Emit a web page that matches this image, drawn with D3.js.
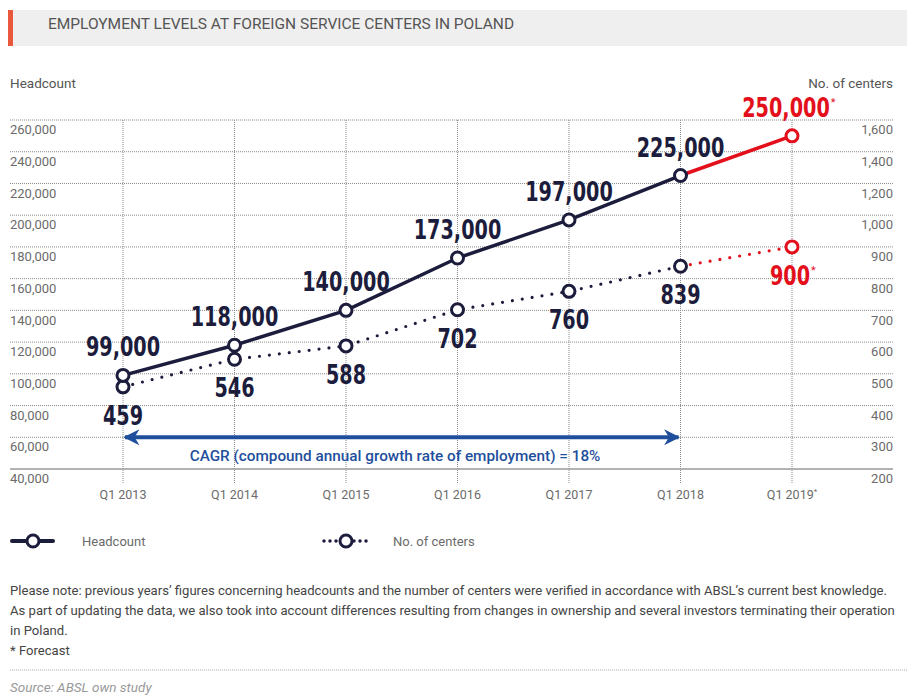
<!DOCTYPE html>
<html>
<head>
<meta charset="utf-8">
<script src="https://cdn.jsdelivr.net/npm/d3@7"></script>
<style>
  body { margin: 0; background: #fff; }
  text { font-family: Roboto, "Noto Sans", sans-serif; }
  .num { font-family: "DejaVu Sans", sans-serif; font-weight: 700; }
</style>
</head>
<body>
<script>
// data
const quarters = ['Q1 2013', 'Q1 2014', 'Q1 2015', 'Q1 2016', 'Q1 2017', 'Q1 2018', 'Q1 2019'];
const headcount = [99000, 118000, 140000, 173000, 197000, 225000, 250000];
const centers = [459, 546, 588, 702, 760, 839, 900];
const forecastIndex = 6; // Q1 2019 is a forecast
const leftTicks = [40000, 60000, 80000, 100000, 120000, 140000, 160000, 180000, 200000, 220000, 240000, 260000];
const rightTicks = [200, 300, 400, 500, 600, 700, 800, 900, 1000, 1200, 1400, 1600];

const W = 907, H = 695;
const navy = '#1c1c3c', red = '#e3101c', blue = '#1f4f9c', grey = '#6b6b6b';

const svg = d3.select('body').append('svg')
    .attr('width', W)
    .attr('height', H);

// title bar
svg.append('rect').attr('x', 8).attr('y', 10).attr('width', W - 8).attr('height', 36).attr('fill', '#efefef');
svg.append('rect').attr('x', 8).attr('y', 10).attr('width', 5).attr('height', 36).attr('fill', '#e9573d');
svg.append('text').attr('x', 48).attr('y', 29)
    .style('font-size', '15.5px').style('fill', '#555')
    .text('EMPLOYMENT LEVELS AT FOREIGN SERVICE CENTERS IN POLAND');

// scales
const x = d3.scalePoint().domain(quarters).range([123, 792]);
const y = d3.scaleLinear().domain([40000, 260000]).range([469, 120]);
// right axis is not linear in the original: 100 per gridline up to 1,000, then 200
const y2 = d3.scaleLinear().domain([200, 1000, 1600]).range([y(40000), y(200000), y(260000)]);

const gridLeft = 10, gridRight = 893;

// horizontal gridlines
svg.append('g').selectAll('line')
    .data(leftTicks.slice(1))
    .join('line')
    .attr('x1', gridLeft).attr('x2', gridRight)
    .attr('y1', d => y(d)).attr('y2', d => y(d))
    .attr('stroke', '#8a8a8a').attr('stroke-width', 1).attr('stroke-dasharray', '1,1');

// vertical gridlines
svg.append('g').selectAll('line')
    .data(quarters)
    .join('line')
    .attr('x1', d => x(d)).attr('x2', d => x(d))
    .attr('y1', y(260000)).attr('y2', 484)
    .attr('stroke', '#8a8a8a').attr('stroke-width', 1).attr('stroke-dasharray', '1,1');

// baseline
svg.append('line').attr('x1', gridLeft).attr('x2', gridRight)
    .attr('y1', y(40000)).attr('y2', y(40000))
    .attr('stroke', '#999').attr('stroke-width', 1.5);

// left axis labels (sit just under each gridline)
const leftAxis = d3.axisLeft(y).tickValues(leftTicks).tickSize(0).tickFormat(d3.format(','));
svg.append('g').attr('transform', `translate(${gridLeft},0)`)
    .call(leftAxis)
    .call(g => g.select('.domain').remove())
    .call(g => g.selectAll('text')
        .attr('x', 0).attr('dy', '1.05em')
        .attr('text-anchor', 'start')
        .style('font-family', 'Roboto, sans-serif')
        .style('font-size', '13px').style('fill', grey));

const rightAxis = d3.axisRight(y2).tickValues(rightTicks).tickSize(0).tickFormat(d3.format(','));
svg.append('g').attr('transform', `translate(${gridRight},0)`)
    .call(rightAxis)
    .call(g => g.select('.domain').remove())
    .call(g => g.selectAll('text')
        .attr('x', 0).attr('dy', '1.05em')
        .attr('text-anchor', 'end')
        .style('font-family', 'Roboto, sans-serif')
        .style('font-size', '13px').style('fill', grey));

// axis titles
svg.append('text').attr('x', 10).attr('y', 88).style('font-size', '13.5px').style('fill', '#555').text('Headcount');
svg.append('text').attr('x', gridRight).attr('y', 88).attr('text-anchor', 'end')
    .style('font-size', '13.5px').style('fill', '#555').text('No. of centers');

// x labels
const xl = svg.append('g').selectAll('text')
    .data(quarters)
    .join('text')
    .attr('x', d => x(d)).attr('y', 499)
    .attr('text-anchor', 'middle')
    .style('font-size', '12.5px').style('fill', grey)
    .text(d => d);
xl.filter((d, i) => i === forecastIndex).append('tspan')
    .attr('dy', -5).style('font-size', '8px').text('*');

// CAGR arrow
const arrowY = y(60000);
const defs = svg.append('defs');
defs.append('marker').attr('id', 'arr').attr('viewBox', '0 0 10 10')
    .attr('refX', 9).attr('refY', 5).attr('markerWidth', 4).attr('markerHeight', 4)
    .attr('orient', 'auto-start-reverse').attr('markerUnits', 'strokeWidth')
    .append('path').attr('d', 'M0,0 L10,5 L0,10 L3,5 Z').attr('fill', blue);
svg.append('line')
    .attr('x1', x('Q1 2013') + 2).attr('x2', x('Q1 2018') - 2)
    .attr('y1', arrowY).attr('y2', arrowY)
    .attr('stroke', blue).attr('stroke-width', 4)
    .attr('marker-start', 'url(#arr)').attr('marker-end', 'url(#arr)');
svg.append('text')
    .attr('x', 395).attr('y', 461)
    .attr('text-anchor', 'middle')
    .style('font-size', '15.3px').style('font-weight', '500').style('fill', blue)
    .text('CAGR (compound annual growth rate of employment) = 18%');

// lines
const rows = quarters.map((q, i) => ({ q, h: headcount[i], c: centers[i], i }));
const actual = rows.slice(0, forecastIndex);
const fc = rows.slice(forecastIndex - 1);

const lineH = d3.line().x(d => x(d.q)).y(d => y(d.h));
const lineC = d3.line().x(d => x(d.q)).y(d => y2(d.c));

svg.append('path').datum(actual).attr('d', lineH)
    .attr('fill', 'none').attr('stroke', navy).attr('stroke-width', 3.5);
svg.append('path').datum(fc).attr('d', lineH)
    .attr('fill', 'none').attr('stroke', red).attr('stroke-width', 3.5);
svg.append('path').datum(actual).attr('d', lineC)
    .attr('fill', 'none').attr('stroke', navy).attr('stroke-width', 3.2)
    .attr('stroke-linecap', 'round').attr('stroke-dasharray', '0,10');
svg.append('path').datum(fc).attr('d', lineC)
    .attr('fill', 'none').attr('stroke', red).attr('stroke-width', 3.2)
    .attr('stroke-linecap', 'round').attr('stroke-dasharray', '0,10');

// markers
const col = d => d.i === forecastIndex ? red : navy;
svg.append('g').selectAll('circle')
    .data(rows).join('circle')
    .attr('cx', d => x(d.q)).attr('cy', d => y2(d.c)).attr('r', 6)
    .attr('fill', '#fff').attr('stroke', col).attr('stroke-width', 3);
svg.append('g').selectAll('circle')
    .data(rows).join('circle')
    .attr('cx', d => x(d.q)).attr('cy', d => y(d.h)).attr('r', 6)
    .attr('fill', '#fff').attr('stroke', col).attr('stroke-width', 3);

// value labels, squeezed horizontally to look like the condensed face of the original
const fmt = d3.format(',');
const squeeze = 0.74;
function valueLabels(value, ypos, dy, xShift) {
    const g = svg.append('g');
    g.selectAll('text')
        .data(rows).join('text')
        .attr('class', 'num')
        .attr('transform', d => {
            const px = x(d.q) + (d.i === forecastIndex ? xShift : 0);
            return `translate(${px},${ypos(d) + dy}) scale(${squeeze},1)`;
        })
        .attr('text-anchor', 'middle')
        .style('font-size', '26px').style('fill', col)
        .text(d => fmt(value(d)))
        .each(function (d) {
            if (d.i !== forecastIndex) return;
            // forecast asterisk sits just after the number
            const w = this.getComputedTextLength() * squeeze;
            g.append('text')
                .attr('x', x(d.q) + xShift + w / 2 + 1)
                .attr('y', ypos(d) + dy - 11)
                .style('font-size', '11px').style('fill', red)
                .text('*');
        });
}
valueLabels(d => d.h, d => y(d.h), -19, -6);
valueLabels(d => d.c, d => y2(d.c), 38, -2);

// legend
const lg = svg.append('g');
lg.append('line').attr('x1', 12).attr('x2', 53).attr('y1', 541).attr('y2', 541)
    .attr('stroke', navy).attr('stroke-width', 4).attr('stroke-linecap', 'round');
lg.append('circle').attr('cx', 33).attr('cy', 541).attr('r', 6)
    .attr('fill', '#fff').attr('stroke', navy).attr('stroke-width', 3);
lg.append('text').attr('x', 82).attr('y', 546).style('font-size', '13px').style('fill', grey).text('Headcount');

lg.append('line').attr('x1', 324).attr('x2', 370).attr('y1', 541).attr('y2', 541)
    .attr('stroke', navy).attr('stroke-width', 3.5).attr('stroke-linecap', 'round')
    .attr('stroke-dasharray', '0,6');
lg.append('circle').attr('cx', 346).attr('cy', 541).attr('r', 6)
    .attr('fill', '#fff').attr('stroke', navy).attr('stroke-width', 3);
lg.append('text').attr('x', 393).attr('y', 546).style('font-size', '13px').style('fill', grey).text('No. of centers');

// notes
const notes = [
    'Please note: previous years\u2019 figures concerning headcounts and the number of centers were verified in accordance with ABSL\u2019s current best knowledge.',
    'As part of updating the data, we also took into account differences resulting from changes in ownership and several investors terminating their operation',
    'in Poland.',
    '* Forecast'
];
svg.append('g').selectAll('text')
    .data(notes).join('text')
    .attr('x', 10).attr('y', (d, i) => 595 + i * 20)
    .style('font-size', '13.1px').style('fill', '#444')
    .text(d => d);

svg.append('line').attr('x1', 10).attr('x2', W).attr('y1', 670).attr('y2', 670)
    .attr('stroke', '#aaa').attr('stroke-width', 1).attr('stroke-dasharray', '1,1');
svg.append('text').attr('x', 10).attr('y', 692)
    .style('font-size', '13.5px').style('font-style', 'italic').style('fill', '#999')
    .text('Source: ABSL own study');
</script>
</body>
</html>
